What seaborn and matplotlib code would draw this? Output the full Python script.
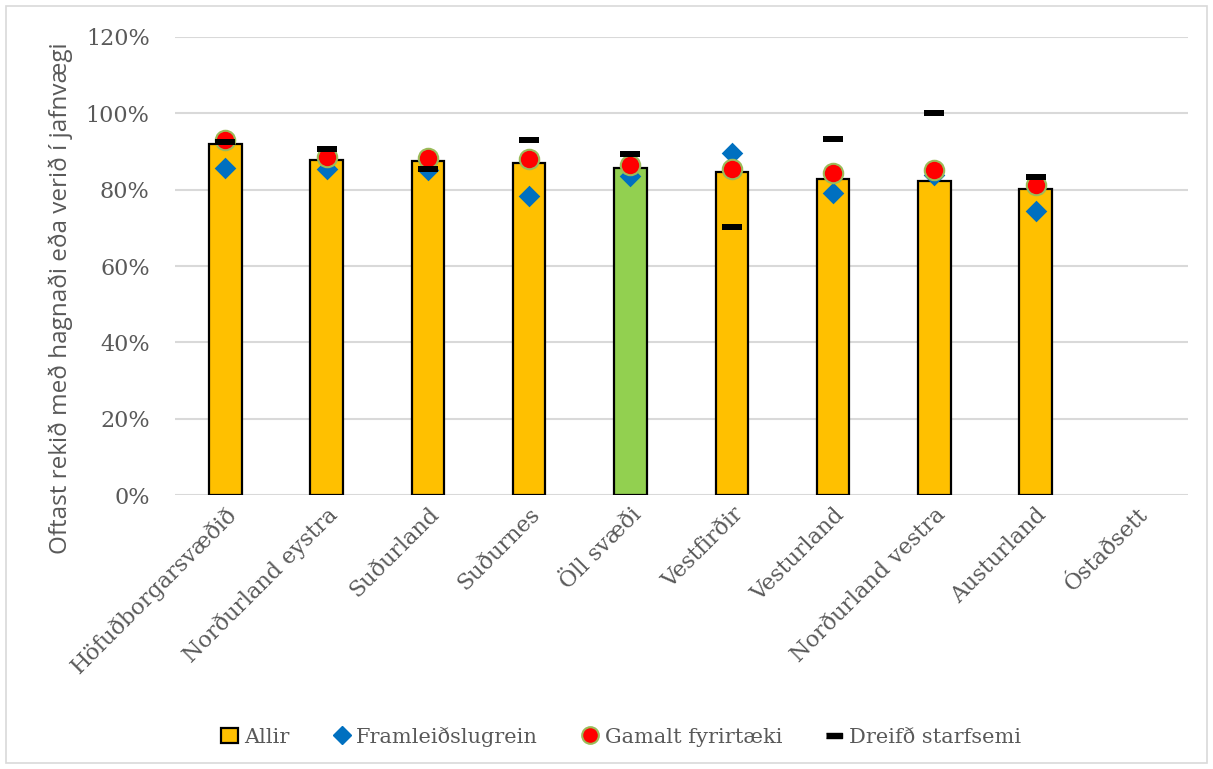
import numpy as np
import pandas as pd
import seaborn as sns
import matplotlib.pyplot as plt
from matplotlib.lines import Line2D
from matplotlib.patches import Patch, Rectangle

sns.set_theme(style="white")
plt.rcParams['font.family'] = ['DejaVu Serif']

# data
regions = ['Höfuðborgarsvæðið', 'Norðurland eystra', 'Suðurland', 'Suðurnes', 'Öll svæði',
           'Vestfirðir', 'Vesturland', 'Norðurland vestra', 'Austurland', 'Óstaðsett']
allir = [0.920, 0.879, 0.875, 0.871, 0.856, 0.846, 0.829, 0.823, 0.802, np.nan]
framleidslugrein = [0.858, 0.854, 0.852, 0.783, 0.836, 0.895, 0.792, 0.838, 0.744, np.nan]
gamalt = [0.930, 0.886, 0.882, 0.880, 0.865, 0.853, 0.843, 0.851, 0.812, np.nan]
dreifd = [0.924, 0.906, 0.854, 0.929, 0.893, 0.701, 0.932, 1.000, 0.833, np.nan]

df = pd.DataFrame({'svaedi': regions, 'Allir': allir, 'Framleiðslugrein': framleidslugrein,
                   'Gamalt fyrirtæki': gamalt, 'Dreifð starfsemi': dreifd})

bar_colors = ['#92D050' if r == 'Öll svæði' else '#FFC000' for r in regions]
txt = '#595959'

fig = plt.figure(figsize=(12.13, 7.69), dpi=100)
ax = fig.add_axes([0.144, 0.356, 0.835, 0.596])

sns.barplot(data=df, x='svaedi', y='Allir', hue='svaedi', palette=bar_colors, order=regions,
            width=0.32, edgecolor='black', linewidth=1.6, saturation=1, legend=False, ax=ax)

sns.stripplot(data=df, x='svaedi', y='Framleiðslugrein', order=regions, jitter=False,
              marker='D', color='#0070C0', size=11, linewidth=0, ax=ax, zorder=3)
sns.stripplot(data=df, x='svaedi', y='Gamalt fyrirtæki', order=regions, jitter=False,
              marker='o', color='#FF0000', size=14, linewidth=1.5, edgecolor='#9BBB59', ax=ax, zorder=4)
dash = [(-1, -0.3), (1, -0.3), (1, 0.3), (-1, 0.3)]
sns.stripplot(data=df, x='svaedi', y='Dreifð starfsemi', order=regions, jitter=False,
              marker=dash, color='black', size=14.5, linewidth=0, ax=ax, zorder=5)

ax.set_ylim(0, 1.2)
ax.set_xlim(-0.5, 9.5)
ax.set_yticks(np.arange(0, 1.21, 0.2))
ax.set_yticklabels([f'{int(round(v * 100))}%' for v in np.arange(0, 1.21, 0.2)],
                   fontsize=16, color=txt)
ax.yaxis.grid(True, color='#D9D9D9', linewidth=1.5)
ax.set_axisbelow(True)
for s in ax.spines.values():
    s.set_visible(False)
ax.tick_params(axis='y', length=0, pad=18)
ax.tick_params(axis='x', length=0, pad=6)
ax.set_xticks(range(len(regions)))
ax.set_xticklabels(regions, rotation=45, ha='right', rotation_mode='anchor',
                   fontsize=16, color=txt)
ax.set_xlabel('')
ax.set_ylabel('Oftast rekið með hagnaði eða verið í jafnvægi', family='Open Sans',
              fontsize=17.5, color=txt)
ax.yaxis.set_label_coords(-0.1, 0.43)

handles = [
    Patch(facecolor='#FFC000', edgecolor='black', linewidth=1.6),
    Line2D([], [], marker='D', color='#0070C0', linestyle='none', markersize=9),
    Line2D([], [], marker='o', color='#FF0000', markeredgecolor='#9BBB59', markeredgewidth=1.5,
           linestyle='none', markersize=12),
    Line2D([], [], marker=dash, color='black', linestyle='none', markersize=12),
]
fig.legend(handles, ['Allir', 'Framleiðslugrein', 'Gamalt fyrirtæki', 'Dreifð starfsemi'],
           loc='center', bbox_to_anchor=(0.512, 0.042), ncol=4, frameon=False,
           fontsize=15, handlelength=0.8, handletextpad=0.3, columnspacing=2.1,
           labelcolor=txt)

fig.patches.append(Rectangle((0.005, 0.008), 0.99, 0.984, transform=fig.transFigure,
                             fill=False, edgecolor='#D9D9D9', linewidth=1.2))

fig.savefig('out.png', dpi=100)
